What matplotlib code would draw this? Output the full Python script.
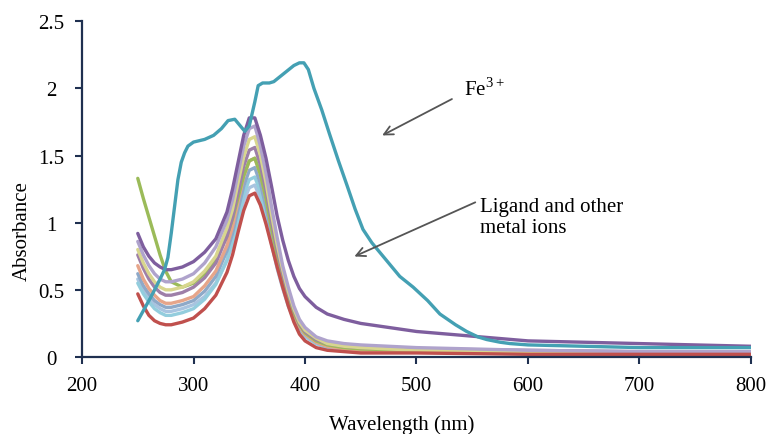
import matplotlib
matplotlib.use("Agg")
import matplotlib.pyplot as plt

plt.rcParams['font.family'] = ['Liberation Serif', 'DejaVu Serif']
plt.rcParams['mathtext.fontset'] = 'custom'
plt.rcParams['mathtext.rm'] = 'Liberation Serif'

# Fe3+ spectrum
wl_fe = [250, 262, 270, 274, 277, 280, 283, 286, 289, 292, 295, 300, 310, 318,
         325, 331, 337, 342, 346, 350, 355, 358, 362, 368, 372, 378, 384, 390,
         395, 399, 403, 408, 415, 422, 430, 438, 445, 452, 460, 470, 485, 497,
         510, 521, 535, 545, 555, 563, 575, 584, 600, 650, 700, 750, 800]
abs_fe = [0.27, 0.45, 0.58, 0.65, 0.74, 0.92, 1.12, 1.32, 1.45, 1.52, 1.57, 1.60,
          1.62, 1.65, 1.70, 1.76, 1.77, 1.72, 1.68, 1.72, 1.90, 2.02, 2.04, 2.04,
          2.05, 2.09, 2.13, 2.17, 2.19, 2.19, 2.14, 2.00, 1.84, 1.66, 1.46, 1.27,
          1.10, 0.95, 0.85, 0.75, 0.60, 0.52, 0.42, 0.32, 0.24, 0.19, 0.15, 0.13,
          0.11, 0.10, 0.09, 0.08, 0.07, 0.07, 0.07]

# ligand and other metal ions
wl = [250, 255, 260, 265, 270, 275, 280, 290, 300, 310, 320, 330, 335, 340,
      345, 350, 355, 360, 365, 370, 375, 380, 385, 390, 395, 400, 410, 420,
      435, 450, 500, 600, 700, 800]
abs_purple = [0.92, 0.82, 0.75, 0.70, 0.67, 0.65, 0.65, 0.67, 0.71, 0.78, 0.88, 1.08, 1.25, 1.45,
              1.65, 1.78, 1.78, 1.65, 1.48, 1.27, 1.05, 0.87, 0.72, 0.60, 0.51, 0.45, 0.37, 0.32,
              0.28, 0.25, 0.19, 0.12, 0.10, 0.08]
abs_lavender = [0.86, 0.76, 0.68, 0.62, 0.58, 0.56, 0.56, 0.58, 0.62, 0.70, 0.82, 1.02, 1.17, 1.37,
                1.57, 1.70, 1.72, 1.57, 1.37, 1.12, 0.89, 0.68, 0.52, 0.38, 0.28, 0.22, 0.15, 0.12,
                0.10, 0.09, 0.07, 0.05, 0.04, 0.04]
abs_yellow = [0.80, 0.70, 0.62, 0.56, 0.52, 0.50, 0.50, 0.52, 0.56, 0.64, 0.75, 0.96, 1.10, 1.30,
              1.49, 1.62, 1.64, 1.50, 1.30, 1.06, 0.84, 0.65, 0.49, 0.36, 0.26, 0.20, 0.14, 0.10,
              0.08, 0.07, 0.05, 0.04, 0.03, 0.03]
abs_mauve = [0.76, 0.66, 0.58, 0.52, 0.48, 0.46, 0.46, 0.48, 0.52, 0.59, 0.70, 0.90, 1.04, 1.23,
             1.42, 1.54, 1.56, 1.43, 1.24, 1.01, 0.80, 0.62, 0.47, 0.35, 0.25, 0.19, 0.13, 0.10,
             0.08, 0.07, 0.06, 0.05, 0.04, 0.04]
abs_green = [1.33, 1.18, 1.04, 0.90, 0.76, 0.64, 0.56, 0.52, 0.55, 0.62, 0.73, 0.90, 1.03, 1.19,
             1.35, 1.46, 1.48, 1.36, 1.18, 0.96, 0.76, 0.59, 0.44, 0.33, 0.24, 0.18, 0.12, 0.09,
             0.07, 0.06, 0.05, 0.04, 0.03, 0.03]
abs_salmon = [0.68, 0.58, 0.51, 0.46, 0.42, 0.40, 0.40, 0.42, 0.45, 0.53, 0.64, 0.83, 0.97, 1.16,
              1.34, 1.46, 1.48, 1.36, 1.18, 0.96, 0.76, 0.58, 0.44, 0.32, 0.23, 0.17, 0.11, 0.08,
              0.06, 0.05, 0.04, 0.03, 0.03, 0.03]
abs_bluegrey = [0.62, 0.53, 0.47, 0.42, 0.39, 0.37, 0.37, 0.39, 0.42, 0.49, 0.60, 0.79, 0.92, 1.10,
                1.27, 1.39, 1.41, 1.29, 1.12, 0.92, 0.72, 0.56, 0.42, 0.31, 0.22, 0.17, 0.11, 0.08,
                0.06, 0.05, 0.04, 0.04, 0.03, 0.03]
abs_lteal = [0.55, 0.47, 0.41, 0.36, 0.33, 0.31, 0.31, 0.33, 0.36, 0.43, 0.54, 0.72, 0.86, 1.03,
             1.21, 1.32, 1.34, 1.23, 1.07, 0.87, 0.69, 0.53, 0.40, 0.29, 0.21, 0.16, 0.10, 0.07,
             0.05, 0.04, 0.04, 0.03, 0.03, 0.02]
abs_lblue = [0.58, 0.50, 0.44, 0.39, 0.36, 0.34, 0.34, 0.36, 0.39, 0.45, 0.55, 0.72, 0.84, 1.00,
             1.16, 1.26, 1.28, 1.18, 1.03, 0.84, 0.66, 0.51, 0.38, 0.28, 0.20, 0.15, 0.10, 0.07,
             0.05, 0.04, 0.04, 0.03, 0.02, 0.02]
abs_red = [0.47, 0.38, 0.31, 0.27, 0.25, 0.24, 0.24, 0.26, 0.29, 0.36, 0.46, 0.63, 0.76, 0.93,
           1.09, 1.20, 1.22, 1.13, 0.99, 0.83, 0.67, 0.52, 0.38, 0.26, 0.17, 0.12, 0.07, 0.05,
           0.04, 0.03, 0.03, 0.02, 0.02, 0.02]

ligand_series = [
    (abs_lblue, '#A8C4E0'),
    (abs_lteal, '#93CDDD'),
    (abs_bluegrey, '#8EA9C8'),
    (abs_salmon, '#E6A58A'),
    (abs_green, '#9BBB59'),
    (abs_mauve, '#9E7FA8'),
    (abs_yellow, '#D8D68E'),
    (abs_lavender, '#AFA3CC'),
    (abs_red, '#C0504D'),
    (abs_purple, '#7E5E9E'),
]

fig = plt.figure(figsize=(7.71, 4.35), dpi=100)
ax = fig.add_axes([0.1064, 0.177, 0.8676, 0.772])

for vals, col in ligand_series:
    ax.plot(wl, vals, color=col, lw=2.4, solid_capstyle='round', solid_joinstyle='round')
ax.plot(wl_fe, abs_fe, color='#44A0B3', lw=2.4, solid_capstyle='round', solid_joinstyle='round')

ax.set_xlim(200, 800)
ax.set_ylim(0, 2.5)
ax.set_xticks([200, 300, 400, 500, 600, 700, 800])
ax.set_yticks([0, 0.5, 1, 1.5, 2, 2.5])
ax.set_yticklabels(['0', '0.5', '1', '1.5', '2', '2.5'])

spine_col = '#1F3050'
for s in ['top', 'right']:
    ax.spines[s].set_visible(False)
for s in ['left', 'bottom']:
    ax.spines[s].set_color(spine_col)
    ax.spines[s].set_linewidth(1.6)
ax.tick_params(axis='both', colors=spine_col, labelcolor='black', length=5, width=1.5, labelsize=15)
ax.tick_params(axis='x', pad=9)
ax.tick_params(axis='y', pad=17)
for lab in ax.get_yticklabels():
    lab.set_ha('center')

ax.set_xlabel('Wavelength (nm)', fontsize=15)
ax.set_ylabel('Absorbance', fontsize=15)
ax.xaxis.set_label_coords(0.478, -0.17)
ax.yaxis.set_label_coords(-0.075, 0.378)

arrow = dict(arrowstyle='->', color='#555555', lw=1.3, mutation_scale=16)
ax.annotate('', xy=(467, 1.64), xytext=(534, 1.93), arrowprops=arrow)
ax.text(543, 1.95, r'Fe$^{\mathrm{3+}}$', fontsize=15, va='baseline', ha='left')
ax.annotate('', xy=(442, 0.74), xytext=(555, 1.16), arrowprops=arrow)
ax.text(557, 1.19, 'Ligand and other\nmetal ions', fontsize=15, va='top', ha='left',
        linespacing=1.1)

fig.savefig('out.png', dpi=100)
